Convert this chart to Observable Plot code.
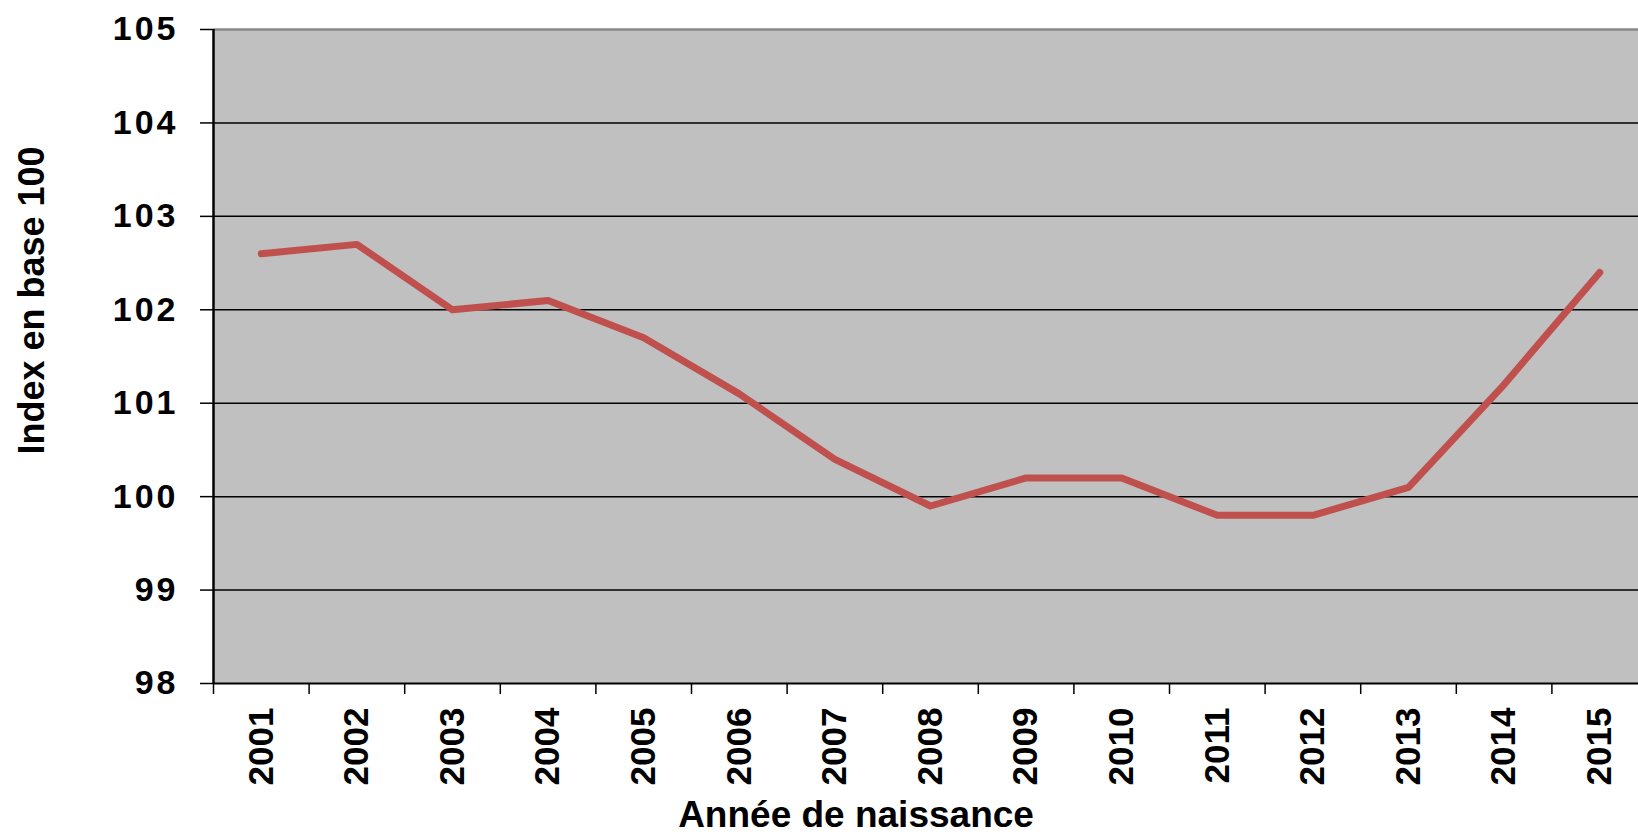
<!DOCTYPE html>
<html>
<head>
<meta charset="utf-8">
<script src="https://cdn.jsdelivr.net/npm/d3@7"></script>
<script src="https://cdn.jsdelivr.net/npm/@observablehq/plot@0.6"></script>
<style>
  html, body { margin: 0; padding: 0; background: #fff; overflow: hidden; }
  #chart svg { font-family: "Liberation Sans", Arial, sans-serif; font-weight: bold; }
  g[aria-label="y-axis tick label"] text { letter-spacing: 3px; }
</style>
</head>
<body>
<div id="chart"></div>
<script>
const years = [2001, 2002, 2003, 2004, 2005, 2006, 2007, 2008, 2009, 2010, 2011, 2012, 2013, 2014, 2015];
const values = [102.6, 102.7, 102.0, 102.1, 101.7, 101.1, 100.4, 99.9, 100.2, 100.2, 99.8, 99.8, 100.1, 101.2, 102.4];
const yTicks = [98, 99, 100, 101, 102, 103, 104, 105];
const xTitle = "Année de naissance";
const yTitle = "Index en base 100";

const data = years.map((year, i) => ({year, value: values[i]}));
const x0 = years[0] - 0.5;
const x1 = years[years.length - 1] + 0.5;
const boundaries = years.map(y => y - 0.5).concat([x1]);

const chart = Plot.plot({
  width: 1638,
  height: 834,
  marginLeft: 213,
  marginRight: 0,
  marginTop: 29,
  marginBottom: 151,
  x: {domain: [x0, x1], range: [213, 1647]},
  y: {domain: [yTicks[0], yTicks[yTicks.length - 1]]},
  marks: [
    Plot.frame({fill: "#c0c0c0", stroke: null}),
    Plot.ruleY(yTicks.slice(1, -1), {stroke: "#000", strokeWidth: 1.5}),
    Plot.ruleY([yTicks[yTicks.length - 1]], {stroke: "#888", strokeWidth: 2.5}),
    Plot.ruleY([yTicks[0]], {stroke: "#000", strokeWidth: 2}),
    Plot.ruleX([x0], {stroke: "#000", strokeWidth: 2.5}),
    Plot.axisY(yTicks, {tickSize: 13, tickPadding: 22, fontSize: 34, fontWeight: "bold", fill: "#000", stroke: "#000", strokeWidth: 1.5, label: null, tickFormat: d => String(d)}),
    Plot.axisX(boundaries, {tickSize: 11, stroke: "#000", strokeWidth: 1.5, label: null, tickFormat: () => ""}),
    Plot.axisX(years, {tickSize: 0, tickPadding: 24, tickRotate: -90, fontSize: 35, fontWeight: "bold", fill: "#000", label: null, tickFormat: d => String(d)}),
    Plot.line(data, {x: "year", y: "value", stroke: "#c0504d", strokeWidth: 7, strokeLinecap: "round", strokeLinejoin: "round"}),
    Plot.text([xTitle], {text: d => d, frameAnchor: "bottom", dx: -70, dy: 132, lineAnchor: "middle", textAnchor: "middle", fontSize: 37, fontWeight: "bold", fill: "#000"}),
    Plot.text([yTitle], {text: d => d, frameAnchor: "left", rotate: -90, dx: -181, dy: -56, textAnchor: "middle", lineAnchor: "middle", fontSize: 36, fontWeight: "bold", fill: "#000"})
  ]
});
document.getElementById("chart").appendChild(chart);
</script>
</body>
</html>
